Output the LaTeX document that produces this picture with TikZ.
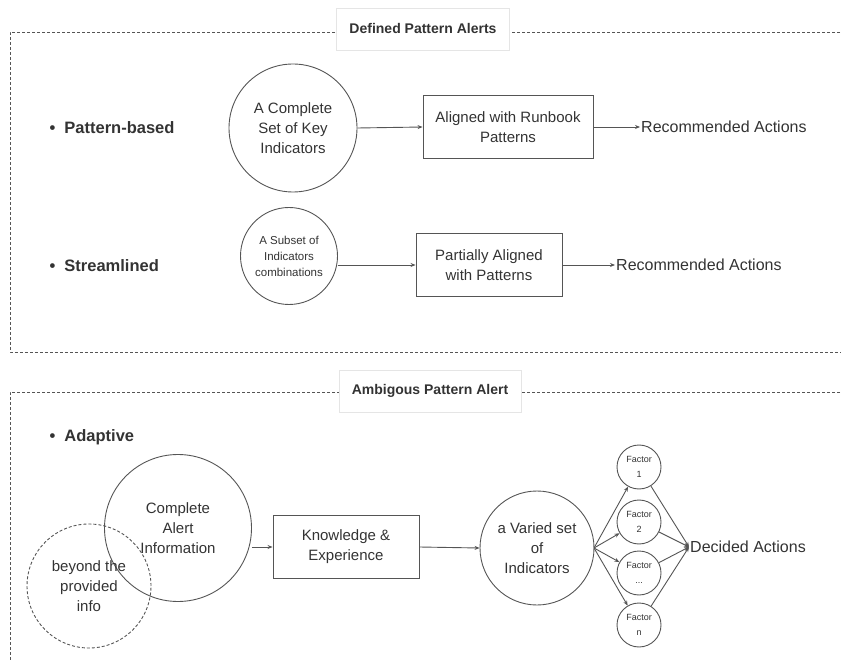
\documentclass[tikz,border=0pt]{standalone}
\usepackage{fontspec}
\setmainfont{Liberation Sans}
\usetikzlibrary{arrows.meta}
\definecolor{ink}{HTML}{333333}
\definecolor{edge}{HTML}{555555}
\begin{document}
\begin{tikzpicture}[x=1pt,y=-1pt,
  frame/.style={draw=edge, line width=0.8pt, dash pattern=on 3pt off 2pt},
  title/.style={fill=white, draw=black!10, line width=0.6pt, font=\bfseries\fontsize{14}{16}\selectfont, text=ink, inner xsep=13pt, minimum height=42pt},
  bullet/.style={font=\bfseries\fontsize{16.5}{18}\selectfont, text=ink, anchor=west},
  disc/.style={circle, draw=edge, line width=0.9pt, inner sep=0pt, align=center, text=ink},
  stepbox/.style={draw=edge, line width=0.9pt, align=center, text=ink, font=\fontsize{15}{20}\selectfont, inner sep=0pt},
  outcome/.style={font=\fontsize{16}{18}\selectfont, text=ink, anchor=west, inner sep=1pt},
  link/.style={draw=edge, line width=0.9pt, -{Stealth[length=5pt,width=4pt]}}]
\useasboundingbox (0,0) rectangle (841,660);

% dashed group frames, open on the right
\draw[frame] (845,32) -- (10,32) -- (10,352) -- (845,352);
\draw[frame] (845,392) -- (10,392) -- (10,665);
\node[title] (t1) at (423,29) {Defined Pattern Alerts};
\node[title] (t2) at (430,391) {Ambigous Pattern Alert};

% pattern-based row
\node[bullet] (b1) at (46,128) {\textbullet\ \ Pattern-based};
\node[disc, minimum size=128pt, font=\fontsize{15}{20}\selectfont] (c1) at (293,128) {A Complete\\Set of Key\\Indicators};
\node[stepbox, minimum width=170pt, minimum height=63pt] (r1) at (508,127) {Aligned with Runbook\\Patterns};
\node[outcome] (a1) at (640,127) {Recommended Actions};
\draw[link] (c1.east) -- (r1.west);
\draw[link] (r1) -- (a1.west);

% streamlined row
\node[bullet] (b2) at (46,266) {\textbullet\ \ Streamlined};
\node[disc, minimum size=97pt, font=\fontsize{11.5}{16}\selectfont] (c2) at (289,256) {A Subset of\\Indicators\\combinations};
\node[stepbox, minimum width=146pt, minimum height=63pt] (r2) at (489,265) {Partially Aligned\\with Patterns};
\node[outcome] (a2) at (615,265) {Recommended Actions};
\draw[link] (c2.east |- r2) -- (r2);
\draw[link] (r2) -- (a2.west);

% adaptive section
\node[bullet] (b3) at (46,437) {\textbullet\ \ Adaptive};
\node[disc, minimum size=147pt, font=\fontsize{15}{20}\selectfont] (c3) at (178,528) {Complete\\Alert\\Information};
\node[disc, dash pattern=on 3pt off 2pt, minimum size=124pt, font=\fontsize{15}{20}\selectfont] (c4) at (89,586) {beyond the\\provided\\info};
\node[stepbox, minimum width=146pt, minimum height=63pt] (r3) at (346,547) {Knowledge \&\\Experience};
\node[disc, minimum size=114pt, font=\fontsize{15}{20}\selectfont] (c5) at (537,548) {a Varied set\\of\\Indicators};
\draw[link] (c3.east |- r3) -- (r3);
\draw[link] (r3.east) -- (c5.west);

% factor circles and the decision point
\coordinate (hub) at (594,548);
\node[disc, minimum size=44pt, font=\fontsize{9}{15}\selectfont] (f1) at (639,467) {Factor\\1};
\node[disc, minimum size=44pt, font=\fontsize{9}{15}\selectfont] (f2) at (639,522) {Factor\\2};
\node[disc, minimum size=44pt, font=\fontsize{9}{15}\selectfont] (f3) at (639,573) {Factor\\...};
\node[disc, minimum size=44pt, font=\fontsize{9}{15}\selectfont] (f4) at (639,625) {Factor\\n};
\node[outcome] (d) at (689,547) {Decided Actions};
\foreach \f in {f1,f2,f3,f4}{
  \draw[link] (hub) -- (\f);
  \draw[link] (\f) -- (d.west);
}
\end{tikzpicture}
\end{document}
